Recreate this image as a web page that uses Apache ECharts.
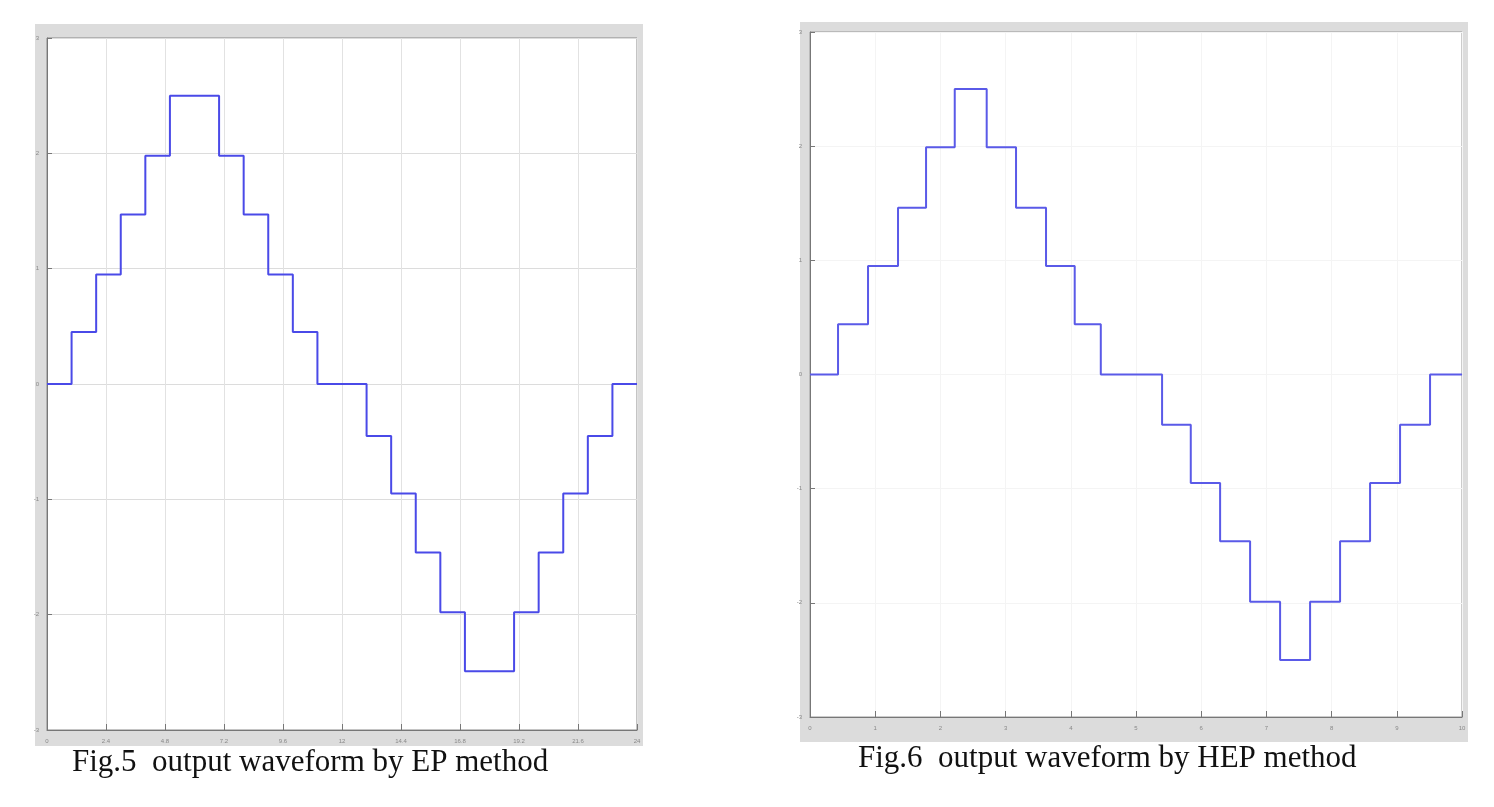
<!DOCTYPE html>
<html><head><meta charset="utf-8">
<script src="https://cdn.jsdelivr.net/npm/echarts@6/dist/echarts.min.js"></script>
<style>html,body{margin:0;background:#fff}#c{width:1494px;height:807px}</style></head>
<body><div id="c"></div>
<script>
// Fig.5 (EP) step start times (units: 1/24 period) and levels
const epTimes=[0,1,2,3,4,5,7,8,9,10,11,13,14,15,16,17,19,20,21,22,23,24];
const epLevels=[0,0.45,0.95,1.47,1.98,2.5,1.98,1.47,0.95,0.45,0,-0.45,-0.95,-1.46,-1.98,-2.49,-1.98,-1.46,-0.95,-0.45,0,0];
// Fig.6 (HEP) step start times (units: grid divisions) and levels
const hepTimes=[0,0.43,0.89,1.35,1.78,2.22,2.71,3.16,3.62,4.06,4.46,5.40,5.84,6.29,6.75,7.21,7.67,8.13,8.59,9.05,9.51,10];
const hepLevels=[0,0.44,0.95,1.46,1.99,2.5,1.99,1.46,0.95,0.44,0,-0.44,-0.95,-1.46,-1.99,-2.5,-1.99,-1.46,-0.95,-0.44,0,0];
const captions=["Fig.5  output waveform by EP method","Fig.6  output waveform by HEP method"];

const ch=echarts.init(document.getElementById('c'));
const tiny={fontSize:6,color:'#888'};
const zip=(a,b)=>a.map((v,i)=>[v,b[i]]);
const xl={onZero:false,lineStyle:{color:'#777'}};
ch.setOption({
  animation:false,
  graphic:[
    {type:'rect',shape:{x:35,y:24,width:608,height:722},style:{fill:'#dcdcdc'},z:-10},
    {type:'rect',shape:{x:800,y:22,width:668,height:720},style:{fill:'#dcdcdc'},z:-10},
    {type:'text',left:72,top:747,style:{text:captions[0],font:'31px "Liberation Serif"',fill:'#111'}},
    {type:'text',left:858,top:743,style:{text:captions[1],font:'31px "Liberation Serif"',fill:'#111'}}
  ],
  grid:[
    {left:47,top:38,width:590,height:692,show:true,backgroundColor:'#fff',borderColor:'#888',borderWidth:1},
    {left:810,top:32,width:652,height:685,show:true,backgroundColor:'#fff',borderColor:'#999',borderWidth:1}
  ],
  xAxis:[
    {type:'value',gridIndex:0,min:0,max:24,interval:2.4,axisLabel:tiny,axisTick:{inside:true,length:6,lineStyle:{color:'#777'}},axisLine:xl,splitLine:{lineStyle:{color:'#e2e2e2'}}},
    {type:'value',gridIndex:1,min:0,max:10,interval:1,axisLabel:tiny,axisTick:{inside:true,length:6,lineStyle:{color:'#777'}},axisLine:xl,splitLine:{lineStyle:{color:'#f4f4f4'}}}
  ],
  yAxis:[
    {type:'value',gridIndex:0,min:-3,max:3,interval:1,axisLabel:tiny,axisTick:{inside:true,length:5},axisLine:xl,splitLine:{lineStyle:{color:'#dcdcdc'}}},
    {type:'value',gridIndex:1,min:-3,max:3,interval:1,axisLabel:tiny,axisTick:{inside:true,length:5},axisLine:xl,splitLine:{lineStyle:{color:'#f4f4f4'}}}
  ],
  series:[
    {type:'line',step:'end',xAxisIndex:0,yAxisIndex:0,data:zip(epTimes,epLevels),showSymbol:false,lineStyle:{color:'#4a4ae8',width:2}},
    {type:'line',step:'end',xAxisIndex:1,yAxisIndex:1,data:zip(hepTimes,hepLevels),showSymbol:false,lineStyle:{color:'#5a5ae8',width:2}}
  ]
});
</script></body></html>
